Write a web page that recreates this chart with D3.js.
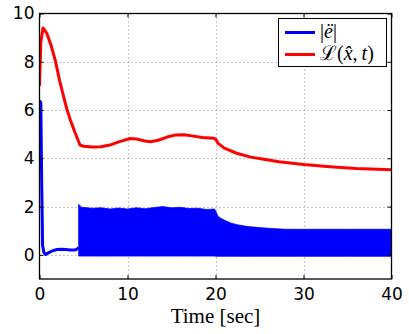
<!DOCTYPE html>
<html>
<head>
<meta charset="utf-8">
<script src="https://cdn.jsdelivr.net/npm/d3@7"></script>
<style>
  html, body { margin: 0; padding: 0; background: #fff; }
  svg { display: block; }
</style>
</head>
<body>
<svg id="chart" width="409" height="334"></svg>
<script>
// Lyapunov function L(x̂,t) over time
const lyapTime = [0, 0.15, 0.4, 0.8, 1.3, 1.8, 2.3, 2.75, 3.1, 3.5, 4.0, 4.6, 5.0, 6.0, 7.0, 8.0, 9.0, 10.3, 11.0, 12.0, 12.6, 13.5, 14.5, 15.5, 16.4, 17.5, 18.5, 19.8, 20.0, 20.3, 21.0, 22.4, 24.0, 25.5, 27.2, 30, 33, 36, 40];
const lyapValue = [7.0, 8.8, 9.4, 9.2, 8.7, 8.05, 7.2, 6.55, 6.05, 5.6, 5.1, 4.55, 4.5, 4.47, 4.48, 4.55, 4.68, 4.82, 4.8, 4.72, 4.69, 4.75, 4.88, 4.97, 4.98, 4.92, 4.86, 4.83, 4.8, 4.62, 4.42, 4.21, 4.05, 3.96, 3.86, 3.74, 3.65, 3.58, 3.53];

// |ë| before the oscillation sets in
const errTime = [0, 0.15, 0.25, 0.35, 0.5, 0.7, 1.0, 1.5, 2.0, 2.5, 3.0, 3.5, 4.0, 4.3, 4.45];
const errValue = [6.4, 6.3, 3.0, 0.4, 0.1, 0.02, 0.08, 0.17, 0.22, 0.23, 0.22, 0.2, 0.2, 0.25, 0.3];

// |ë| oscillation envelope (upper / lower bound of the chattering band)
const bandTime  = [4.45, 4.55, 4.8, 6, 7, 8, 9, 10, 11, 12, 13, 14, 15, 16, 17, 18, 19, 19.9, 20.05, 20.3, 20.7, 21.1, 21.8, 22.6, 23.7, 25, 26, 27, 27.9, 30, 35, 40];
const bandUpper = [2.1, 2.05, 1.97, 1.93, 1.95, 1.9, 1.94, 1.9, 1.95, 1.91, 1.96, 2.0, 1.95, 1.97, 1.92, 1.93, 1.88, 1.9, 1.79, 1.59, 1.5, 1.42, 1.31, 1.24, 1.17, 1.13, 1.1, 1.08, 1.06, 1.06, 1.06, 1.06];
const bandLower = [-0.05, -0.05, -0.05, -0.05, -0.05, -0.05, -0.05, -0.05, -0.05, -0.05, -0.05, -0.05, -0.05, -0.05, -0.05, -0.05, -0.05, -0.05, -0.06, -0.06, -0.06, -0.06, -0.06, -0.06, -0.06, -0.06, -0.06, -0.06, -0.06, -0.06, -0.06, -0.06];

const xTicks = [0, 10, 20, 30, 40];
const yTicks = [0, 2, 4, 6, 8, 10];

const svg = d3.select("#chart");
const plotLeft = 39.5, plotRight = 391.5, plotTop = 13.5, plotBottom = 279;

const x = d3.scaleLinear().domain([0, 40]).range([plotLeft, plotRight]);
const y = d3.scaleLinear().domain([-1, 10]).range([plotBottom, plotTop]);

// dotted grid
const grid = svg.append("g").attr("stroke", "#8c8c8c").attr("stroke-width", 1).attr("stroke-dasharray", "1,3");
grid.selectAll(".gx").data(xTicks.slice(1, -1)).join("line")
  .attr("x1", d => Math.round(x(d)) + 0.5).attr("x2", d => Math.round(x(d)) + 0.5)
  .attr("y1", plotTop).attr("y2", plotBottom);
grid.selectAll(".gy").data(yTicks.slice(0, -1)).join("line")
  .attr("y1", d => Math.round(y(d)) + 0.5).attr("y2", d => Math.round(y(d)) + 0.5)
  .attr("x1", plotLeft).attr("x2", plotRight);

// clip region for the data
svg.append("clipPath").attr("id", "plotClip").append("rect")
  .attr("x", plotLeft).attr("y", plotTop).attr("width", plotRight - plotLeft).attr("height", plotBottom - plotTop);
const plot = svg.append("g").attr("clip-path", "url(#plotClip)");

// |ë| chattering band
const band = bandTime.map((t, i) => ({ t, hi: bandUpper[i], lo: bandLower[i] }));
plot.append("path").datum(band)
  .attr("fill", "#0000ff").attr("stroke", "#0000ff").attr("stroke-width", 0.8)
  .attr("d", d3.area().x(d => x(d.t)).y0(d => y(d.lo)).y1(d => y(d.hi)));

// |ë| initial transient
const err = errTime.map((t, i) => ({ t, v: errValue[i] }));
plot.append("path").datum(err)
  .attr("fill", "none").attr("stroke", "#0000ff").attr("stroke-width", 3).attr("stroke-linejoin", "round")
  .attr("d", d3.line().x(d => x(d.t)).y(d => y(d.v)));

// L(x̂,t)
const lyap = lyapTime.map((t, i) => ({ t, v: lyapValue[i] }));
plot.append("path").datum(lyap)
  .attr("fill", "none").attr("stroke", "#ff0000").attr("stroke-width", 3).attr("stroke-linejoin", "round")
  .attr("d", d3.line().x(d => x(d.t)).y(d => y(d.v)));

// axes box with inward ticks on all sides
const axisG = svg.append("g");
const fontSans = "'DejaVu Sans', 'Liberation Sans', Arial, sans-serif";
const bottomAxis = d3.axisBottom(x).tickValues(xTicks).tickSizeInner(-4).tickSizeOuter(0).tickPadding(9);
const topAxis = d3.axisTop(x).tickValues(xTicks).tickSizeInner(-4).tickSizeOuter(0).tickFormat("");
const leftAxis = d3.axisLeft(y).tickValues(yTicks).tickSizeInner(-4).tickSizeOuter(0).tickPadding(5);
const rightAxis = d3.axisRight(y).tickValues(yTicks).tickSizeInner(-4).tickSizeOuter(0).tickFormat("");

function styleAxis(g) {
  g.select(".domain").remove();
  g.selectAll(".tick line").attr("stroke", "#000").attr("stroke-width", 1);
  g.selectAll(".tick text").attr("fill", "#000").style("font-family", fontSans).style("font-size", "17px");
}
axisG.append("g").attr("transform", `translate(0,${plotBottom})`).call(bottomAxis).call(styleAxis);
axisG.append("g").attr("transform", `translate(0,${plotTop})`).call(topAxis).call(styleAxis);
axisG.append("g").attr("transform", `translate(${plotLeft},0)`).call(leftAxis).call(styleAxis);
axisG.append("g").attr("transform", `translate(${plotRight},0)`).call(rightAxis).call(styleAxis);

svg.append("rect")
  .attr("x", plotLeft).attr("y", plotTop).attr("width", plotRight - plotLeft).attr("height", plotBottom - plotTop)
  .attr("fill", "none").attr("stroke", "#000").attr("stroke-width", 1.3);

// x-axis title
const serif = "'Liberation Serif', 'DejaVu Serif', serif";
svg.append("text")
  .attr("x", (plotLeft + plotRight) / 2).attr("y", 323)
  .attr("text-anchor", "middle")
  .style("font-family", serif).style("font-size", "21px")
  .text("Time [sec]");

// legend
const legendColors = ["#0000ff", "#ff0000"];
const legendParts = [
  [["|", "normal"], ["ë", "italic"], ["|", "normal"]],
  [["ℒ", "normal"], ["(", "normal"], ["x̂", "italic"], [",\u2009", "normal"], ["t", "italic"], [")", "normal"]]
];
const legend = svg.append("g");
legend.append("rect")
  .attr("x", 278.5).attr("y", 18.5).attr("width", 108).attr("height", 48)
  .attr("fill", "#fff").attr("stroke", "#000").attr("stroke-width", 1);
legendParts.forEach((parts, i) => {
  const ly = 32.5 + i * 22;
  legend.append("line")
    .attr("x1", 285).attr("x2", 315).attr("y1", ly).attr("y2", ly)
    .attr("stroke", legendColors[i]).attr("stroke-width", 3);
  const txt = legend.append("text")
    .attr("x", 320).attr("y", ly + 5.5)
    .style("font-family", serif)
    .style("font-size", "20px");
  parts.forEach(([s, st]) => txt.append("tspan").style("font-style", st).text(s));
});
</script>
</body>
</html>
